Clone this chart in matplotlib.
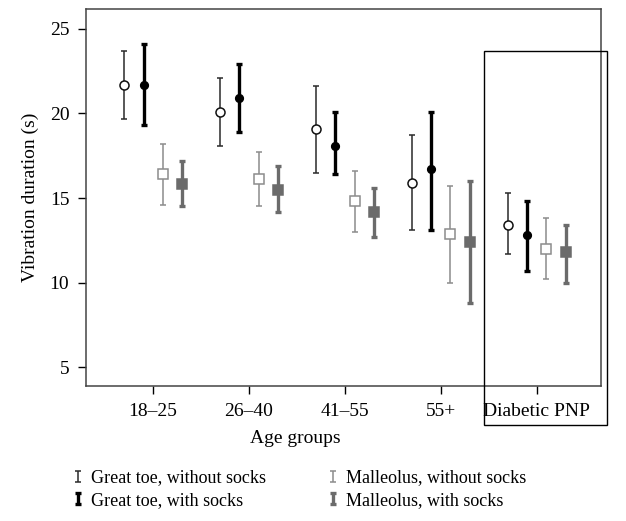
import numpy as np
import matplotlib.pyplot as plt
from matplotlib.patches import Rectangle
from matplotlib.legend_handler import HandlerErrorbar

plt.rcParams['font.family'] = ['Liberation Serif', 'DejaVu Serif']
plt.rcParams['font.size'] = 14

groups = ["18\u201325", "26\u201340", "41\u201355", "55+", "Diabetic PNP"]

# mean, lower end, upper end of each bar
toe_no = [21.7, 20.1, 19.1, 15.9, 13.4]
toe_no_lo = [19.7, 18.1, 16.5, 13.1, 11.7]
toe_no_hi = [23.7, 22.1, 21.6, 18.7, 15.3]

toe_yes = [21.7, 20.9, 18.1, 16.7, 12.8]
toe_yes_lo = [19.3, 18.9, 16.4, 13.1, 10.7]
toe_yes_hi = [24.1, 22.9, 20.1, 20.1, 14.8]

mal_no = [16.4, 16.1, 14.8, 12.9, 12.0]
mal_no_lo = [14.6, 14.5, 13.0, 10.0, 10.2]
mal_no_hi = [18.2, 17.7, 16.6, 15.7, 13.8]

mal_yes = [15.8, 15.5, 14.2, 12.4, 11.8]
mal_yes_lo = [14.5, 14.2, 12.7, 8.8, 10.0]
mal_yes_hi = [17.2, 16.9, 15.6, 16.0, 13.4]

labels = ["Great toe, without socks", "Great toe, with socks",
          "Malleolus, without socks", "Malleolus, with socks"]

fig = plt.figure(figsize=(6.26, 5.21), dpi=100)
ax = fig.add_axes([86/626, 1-386/521, 515/626, 377/521])

x = np.arange(1, 6)
series = [
    (toe_no, toe_no_lo, toe_no_hi, -0.3, '#2a2a2a', 1.1, 'o', 'white', '#111111', 6.5),
    (toe_yes, toe_yes_lo, toe_yes_hi, -0.1, 'black', 2.4, 'o', 'black', 'black', 5.5),
    (mal_no, mal_no_lo, mal_no_hi, 0.1, '#8c8c8c', 1.1, 's', 'white', '#8c8c8c', 6.5),
    (mal_yes, mal_yes_lo, mal_yes_hi, 0.3, '#6b6b6b', 2.4, 's', '#6b6b6b', '#6b6b6b', 6.5),
]

handles = []
for m, lo, hi, off, c, lw, mk, fc, ec, ms in series:
    m = np.array(m)
    yerr = [m - np.array(lo), np.array(hi) - m]
    eb = ax.errorbar(x + off, m, yerr=yerr, fmt='none', ecolor=c, elinewidth=lw,
                     capsize=2.5, capthick=lw, zorder=2)
    handles.append(eb)
    ax.plot(x + off, m, linestyle='none', marker=mk, markerfacecolor=fc,
            markeredgecolor=ec, markersize=ms, markeredgewidth=1.1, zorder=3)

ax.set_xlim(0.30, 5.67)
ax.set_ylim(3.88, 26.18)
ax.set_xticks(x)
ax.set_xticklabels(groups)
ax.set_yticks([5, 10, 15, 20, 25])
ax.tick_params(direction='out', length=6, width=1, pad=6)
for s in ax.spines.values():
    s.set_color('#444444')
    s.set_linewidth(1.1)

ax.set_ylabel("Vibration duration (s)", labelpad=8)
ax.set_xlabel("Age groups")
ax.xaxis.set_label_coords(0.406, -0.118)

# box around the diabetic group
fig.add_artist(Rectangle((483.7/626, 1-425/521), 123/626, 374/521,
                         transform=fig.transFigure, fill=False,
                         edgecolor='black', linewidth=1.0, clip_on=False))

hmap = {h: HandlerErrorbar(xerr_size=0.3) for h in handles}
fig.legend(handles, labels, ncol=2, loc='upper left', handler_map=hmap,
           bbox_to_anchor=(64/626, 1-462/521), frameon=False,
           fontsize=13, handlelength=0.8, handleheight=0.5, handletextpad=0.3,
           columnspacing=3.3, labelspacing=0.3, borderaxespad=0)

fig.savefig('out.png', dpi=100)
